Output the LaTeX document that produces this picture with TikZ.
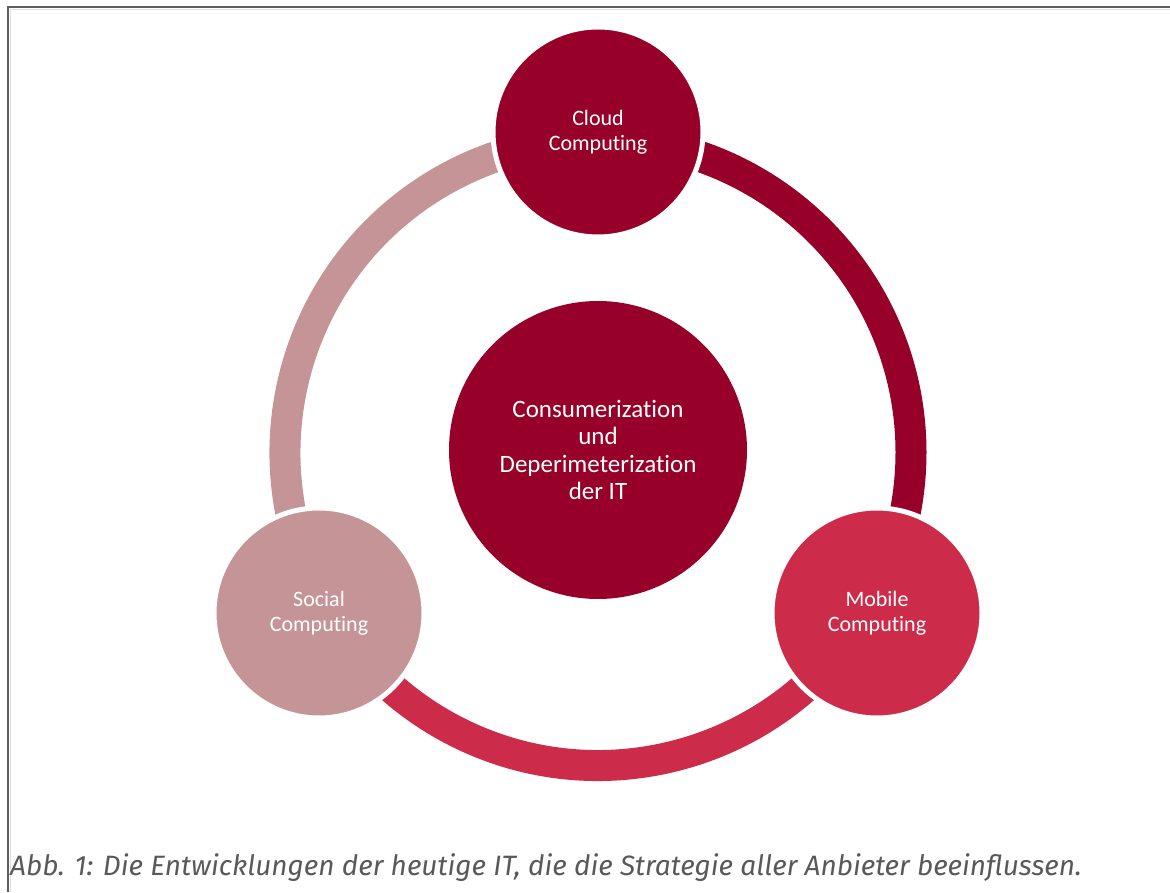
\documentclass[tikz,border=0pt]{standalone}
\usepackage{fontspec}
\usetikzlibrary{calc}
\setmainfont{Carlito}[Ligatures=NoCommon]
\newfontfamily\capfont{Fira Sans}
\definecolor{cloudred}{HTML}{970029}
\definecolor{mobilered}{HTML}{CD2B4A}
\definecolor{socialrose}{HTML}{C59497}
\definecolor{framegray}{HTML}{5E5E5E}
\definecolor{capgray}{HTML}{595959}
\tikzset{
	satellite/.style={circle,minimum size=210pt,inner sep=0pt,draw=white,line width=5pt,text=white,align=center,font=\fontsize{22}{25}\selectfont},
	core/.style={circle,minimum size=298pt,inner sep=0pt,fill=cloudred,text=white,align=center,font=\fontsize{25}{27.5}\selectfont},
	ringpart/.style={line width=31pt}
}
\begin{document}
\begin{tikzpicture}[x=1pt,y=1pt]
	\useasboundingbox (0,0) rectangle (1170,892);
	% frame of the figure
	\draw [framegray,line width=2.5pt] (8,0) -- (8,885) -- (1170,885);
	\draw [black!12,line width=1pt] (10.5,0) -- (10.5,882.5) -- (1170,882.5);

	\coordinate (RingCenter) at (598,439.5);
	\def\ringradius{313}

	% ring, one arc per colour
	\draw [ringpart,cloudred] ($(RingCenter)+(90:\ringradius)$)
		arc [start angle=90,end angle=-30,radius=\ringradius];
	\draw [ringpart,mobilered] ($(RingCenter)+(-30:\ringradius)$)
		arc [start angle=-30,end angle=-150,radius=\ringradius];
	\draw [ringpart,socialrose] ($(RingCenter)+(210:\ringradius)$)
		arc [start angle=210,end angle=90,radius=\ringradius];

	\node [satellite,fill=cloudred]   (Cloud)  at (598,760) {Cloud\\Computing};
	\node [satellite,fill=mobilered]  (Mobile) at (877,279) {Mobile\\Computing};
	\node [satellite,fill=socialrose] (Social) at (319,279) {Social\\Computing};
	\node [core] (Center) at (598,442) {Consumerization\\und\\Deperimeterization\\der IT};

	\node [anchor=base west,text=capgray,font=\capfont\itshape\fontsize{28}{32}\selectfont,inner sep=0pt]
		(Caption) at (10,17) {Abb. 1: Die Entwicklungen der heutige IT, die die Strategie aller Anbieter beeinflussen.};
\end{tikzpicture}
\end{document}
